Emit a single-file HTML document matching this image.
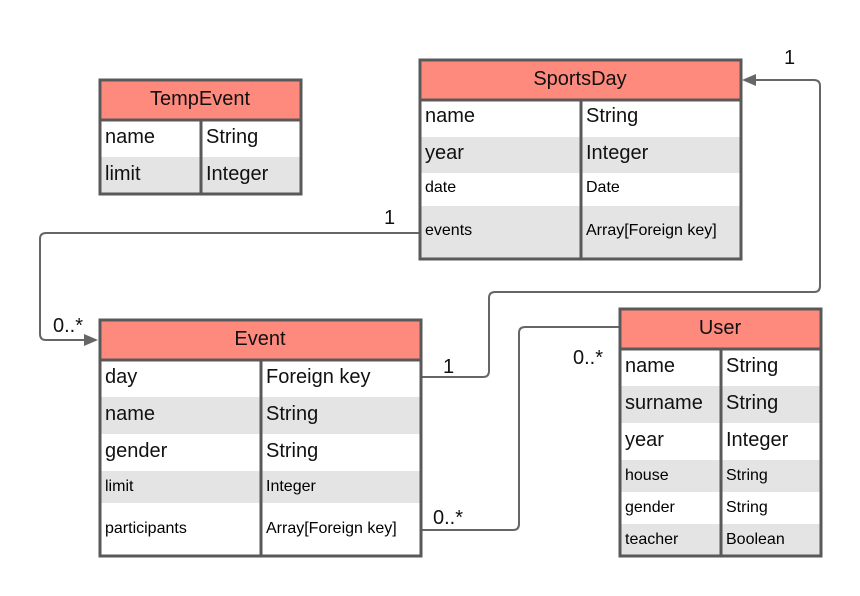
<!DOCTYPE html>
<html><head><style>body{margin:0;background:#fff}svg{display:block}text{font-family:"Liberation Sans",sans-serif;fill:#111}g.s text{fill:#000}</style></head><body>
<svg width="860" height="596" viewBox="0 0 860 596" xmlns="http://www.w3.org/2000/svg">
<g fill="none" stroke="#666" stroke-width="2">
<path d="M420 233 H46 Q40 233 40 239 V334 Q40 340 46 340 H86"/>
<path d="M421 377 H483 Q489 377 489 371 V298 Q489 292 495 292 H814 Q820 292 820 286 V86 Q820 80 814 80 H755"/>
<path d="M421 530 H513 Q519 530 519 524 V333 Q519 327 525 327 H620"/>
</g>
<polygon points="98,340 84,334 84,346" fill="#666"/>
<polygon points="742,80 756,74 756,86" fill="#666"/>
<g font-size="20">
<text x="784" y="64">1</text>
<text x="384" y="224">1</text>
<text x="53" y="332">0..*</text>
<text x="443" y="373">1</text>
<text x="573" y="364">0..*</text>
<text x="433" y="524">0..*</text>
</g>
<!-- TempEvent -->
<rect x="100" y="80" width="201" height="40" fill="#fe8a7e"/>
<rect x="100" y="157" width="201" height="37" fill="#e4e4e4"/>
<g stroke="#595959" stroke-width="3" fill="none"><rect x="100" y="80" width="201" height="114"/><line x1="100" y1="120" x2="301" y2="120"/><line x1="201" y1="120" x2="201" y2="194"/></g>
<g font-size="20" transform="translate(0,-2)"><text x="200" y="107" text-anchor="middle">TempEvent</text>
<text x="105" y="145">name</text><text x="206" y="145">String</text>
<text x="105" y="182">limit</text><text x="206" y="182">Integer</text></g>
<!-- SportsDay -->
<rect x="420" y="60" width="321" height="40" fill="#fe8a7e"/>
<rect x="420" y="137" width="321" height="36" fill="#e4e4e4"/>
<rect x="420" y="206" width="321" height="53" fill="#e4e4e4"/>
<g stroke="#595959" stroke-width="3" fill="none"><rect x="420" y="60" width="321" height="199"/><line x1="420" y1="100" x2="741" y2="100"/><line x1="581" y1="100" x2="581" y2="259"/></g>
<g font-size="20" transform="translate(0,-2)"><text x="580" y="87" text-anchor="middle">SportsDay</text>
<text x="425" y="124">name</text><text x="586" y="124">String</text>
<text x="425" y="161">year</text><text x="586" y="161">Integer</text></g>
<g class="s" font-size="16" transform="translate(0,-1)"><text x="425" y="193">date</text><text x="586" y="193">Date</text>
<text x="425" y="236">events</text><text x="586" y="236">Array[Foreign key]</text></g>
<!-- Event -->
<rect x="100" y="320" width="321" height="40" fill="#fe8a7e"/>
<rect x="100" y="397" width="321" height="37" fill="#e4e4e4"/>
<rect x="100" y="471" width="321" height="32" fill="#e4e4e4"/>
<g stroke="#595959" stroke-width="3" fill="none"><rect x="100" y="320" width="321" height="236"/><line x1="100" y1="360" x2="421" y2="360"/><line x1="261" y1="360" x2="261" y2="556"/></g>
<g font-size="20" transform="translate(0,-2)"><text x="260" y="347" text-anchor="middle">Event</text>
<text x="105" y="385">day</text><text x="266" y="385">Foreign key</text>
<text x="105" y="422">name</text><text x="266" y="422">String</text>
<text x="105" y="459">gender</text><text x="266" y="459">String</text></g>
<g class="s" font-size="16" transform="translate(0,-1)"><text x="105" y="492">limit</text><text x="266" y="492">Integer</text>
<text x="105" y="534">participants</text><text x="266" y="534">Array[Foreign key]</text></g>
<!-- User -->
<rect x="620" y="309" width="201" height="40" fill="#fe8a7e"/>
<rect x="620" y="386" width="201" height="37" fill="#e4e4e4"/>
<rect x="620" y="460" width="201" height="32" fill="#e4e4e4"/>
<rect x="620" y="524" width="201" height="32" fill="#e4e4e4"/>
<g stroke="#595959" stroke-width="3" fill="none"><rect x="620" y="309" width="201" height="247"/><line x1="620" y1="349" x2="821" y2="349"/><line x1="721" y1="349" x2="721" y2="556"/></g>
<g font-size="20" transform="translate(0,-2)"><text x="720" y="336" text-anchor="middle">User</text>
<text x="625" y="374">name</text><text x="726" y="374">String</text>
<text x="625" y="411">surname</text><text x="726" y="411">String</text>
<text x="625" y="448">year</text><text x="726" y="448">Integer</text></g>
<g class="s" font-size="16" transform="translate(0,-1)"><text x="625" y="481">house</text><text x="726" y="481">String</text>
<text x="625" y="513">gender</text><text x="726" y="513">String</text>
<text x="625" y="545">teacher</text><text x="726" y="545">Boolean</text></g>
</svg>
</body></html>
